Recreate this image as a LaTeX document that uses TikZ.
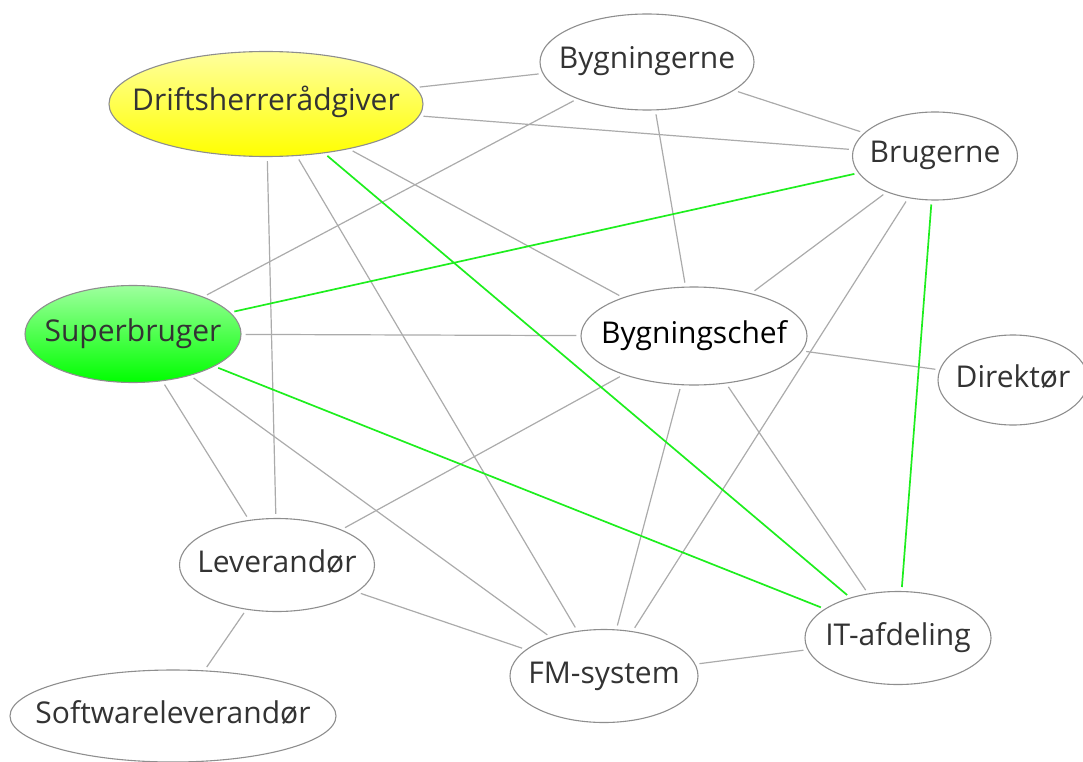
\documentclass[tikz,border=0pt]{standalone}
\usepackage{fontspec}
\setmainfont{Open Sans}
\usetikzlibrary{shapes.geometric}

\definecolor{edgegray}{HTML}{ABABAB}
\definecolor{rimgray}{HTML}{8E8E8E}
\definecolor{linkgreen}{HTML}{1EEE1E}
\definecolor{txtgray}{HTML}{333333}

\begin{document}
\begin{tikzpicture}[x=1pt,y=-1pt,
    actor/.style={ellipse, draw=rimgray, line width=1.1pt, fill=white, inner sep=0pt},
    caption/.style={text=txtgray, font=\fontsize{30}{36}\selectfont, inner sep=0pt,
        text height=21pt, text depth=7pt},
    link/.style={draw=edgegray, line width=1.2pt, shorten >=4pt, shorten <=4pt},
    greenlink/.style={link, draw=linkgreen, line width=1.7pt}]
    \useasboundingbox (0,0) rectangle (1083,762);

    % Actors
    \node[actor, minimum width=314pt, minimum height=105pt, top color=yellow!38, bottom color=yellow,
        label={[caption]center:Driftsherrerådgiver}] (drift) at (266,104) {};
    \node[actor, minimum width=214pt, minimum height=96pt,
        label={[caption]center:Bygningerne}] (bygn) at (647,62) {};
    \node[actor, minimum width=165pt, minimum height=88pt,
        label={[caption]center:Brugerne}] (brug) at (935,156) {};
    \node[actor, minimum width=216pt, minimum height=97pt, top color=green!38, bottom color=green,
        label={[caption]center:Superbruger}] (superb) at (133,334) {};
    \node[actor, minimum width=226pt, minimum height=98pt,
        label={[caption, text=black]center:Bygningschef}] (chef) at (694,336) {};
    \node[actor, minimum width=150pt, minimum height=90pt,
        label={[caption]center:Direktør}] (direk) at (1013,380) {};
    \node[actor, minimum width=195pt, minimum height=93pt,
        label={[caption]center:Leverandør}] (lev) at (277,565) {};
    \node[actor, minimum width=326pt, minimum height=92pt,
        label={[caption]center:Softwareleverandør}] (soft) at (173,716) {};
    \node[actor, minimum width=188pt, minimum height=93pt,
        label={[caption]center:FM-system}] (fm) at (604,676) {};
    \node[actor, minimum width=186pt, minimum height=93pt,
        label={[caption]center:IT-afdeling}] (it) at (898,638) {};

    % Gray relations
    \foreach \a/\b in {drift/bygn, drift/brug, drift/chef, drift/lev, drift/fm,
                       bygn/brug, bygn/superb, bygn/chef,
                       brug/chef, brug/fm,
                       superb/chef, superb/lev, superb/fm,
                       chef/direk, chef/lev, chef/fm, chef/it,
                       lev/fm, lev/soft, fm/it} {
        \draw[link] (\a) -- (\b);
    }

    % Green relations
    \foreach \a/\b in {drift/it, brug/superb, brug/it, superb/it} {
        \draw[greenlink] (\a) -- (\b);
    }
\end{tikzpicture}
\end{document}
